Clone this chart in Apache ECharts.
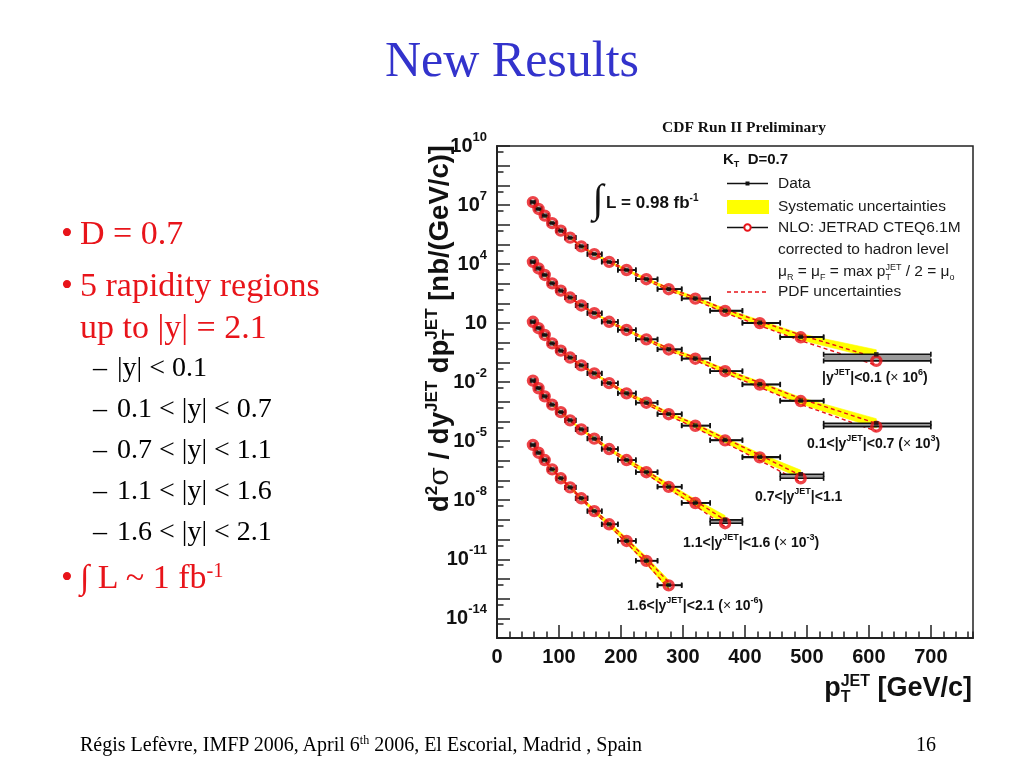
<!DOCTYPE html>
<html lang="en">
<head>
<meta charset="UTF-8">
<title>New Results</title>
<script src="https://cdn.jsdelivr.net/npm/echarts@6.0.0/dist/echarts.min.js"></script>
<style>
  body { margin: 0; background: #fff; }
  #slide { position: relative; width: 1024px; height: 768px; overflow: hidden;
           font-family: "Liberation Serif", "Times New Roman", serif; }
  #main { position: absolute; left: 0; top: 0; width: 1024px; height: 768px; }
  .t { position: absolute; white-space: nowrap; line-height: 1; z-index: 2; }
  .red { color: #e8141a; font-size: 34px; }
  .sub { color: #000; font-size: 28px; }
  sup { font-size: .6em; vertical-align: .55em; line-height: 0; }
</style>
</head>
<body>
<div id="slide">
  <div id="main"></div>
  <div class="t" style="left:0;width:1024px;text-align:center;top:34px;font-size:50px;color:#3333cc;">New Results</div>

  <div class="t red" style="left:61px;top:216px;">•</div>
  <div class="t red" style="left:80px;top:216px;">D = 0.7</div>
  <div class="t red" style="left:61px;top:268px;">•</div>
  <div class="t red" style="left:80px;top:268px;">5 rapidity regions</div>
  <div class="t red" style="left:80px;top:310px;">up to |y| = 2.1</div>

  <div class="t sub" style="left:93px;top:353px;">–</div>
  <div class="t sub" style="left:117px;top:353px;">|y| &lt; 0.1</div>
  <div class="t sub" style="left:93px;top:394px;">–</div>
  <div class="t sub" style="left:117px;top:394px;">0.1 &lt; |y| &lt; 0.7</div>
  <div class="t sub" style="left:93px;top:435px;">–</div>
  <div class="t sub" style="left:117px;top:435px;">0.7 &lt; |y| &lt; 1.1</div>
  <div class="t sub" style="left:93px;top:476px;">–</div>
  <div class="t sub" style="left:117px;top:476px;">1.1 &lt; |y| &lt; 1.6</div>
  <div class="t sub" style="left:93px;top:517px;">–</div>
  <div class="t sub" style="left:117px;top:517px;">1.6 &lt; |y| &lt; 2.1</div>

  <div class="t red" style="left:61px;top:560px;">•</div>
  <div class="t red" style="left:80px;top:560px;">∫ L ~ 1 fb<sup>-1</sup></div>

  <div class="t" style="left:80px;top:734px;font-size:20px;">Régis Lefèvre, IMFP 2006, April 6<sup>th</sup> 2006, El Escorial, Madrid , Spain</div>
  <div class="t" style="left:916px;top:734px;font-size:20px;">16</div>
</div>
<script type="text/javascript">
// pT bins in GeV/c, common to all rapidity regions
var binEdges = [54, 62, 72, 83, 96, 110, 127, 146, 169, 195, 224, 259, 298, 344, 396, 457, 527, 700];
var ptMean = [58, 67, 77, 89, 103, 118, 136, 157, 181, 209, 241, 277, 320, 368, 424, 490, 612];

// axis ticks
var xLabelValues = [0, 100, 200, 300, 400, 500, 600, 700];
var yLabelExps = [10, 7, 4, 1, -2, -5, -8, -11, -14];

// measured cross sections, nb/(GeV/c), already multiplied by the factor in the label
var data_y01 = [1.4e7, 6.3e6, 2.9e6, 1.2e6, 5.0e5, 2.2e5, 7.9e4, 3.2e4, 1.3e4, 5.0e3, 1.7e3, 540, 180, 43, 10.5, 2.0, 0.26];
var data_y07 = [1.3e4, 6.0e3, 2.8e3, 1.05e3, 450, 200, 79, 32, 11.7, 4.5, 1.5, 0.47, 0.16, 0.037, 0.0078, 0.00115, 8.1e-5];
var data_y11 = [11.7, 5.5, 2.5, 0.93, 0.40, 0.178, 0.071, 0.028, 0.0089, 0.0027, 9.1e-4, 2.4e-4, 6.3e-5, 1.15e-5, 1.6e-6, 2.1e-7];
var data_y16 = [1.2e-2, 4.9e-3, 1.9e-3, 7.2e-4, 3.0e-4, 1.15e-4, 4.0e-5, 1.35e-5, 4.0e-6, 1.1e-6, 2.7e-7, 4.9e-8, 7.4e-9, 1.0e-9];
var data_y21 = [6.5e-6, 2.6e-6, 1.1e-6, 3.7e-7, 1.3e-7, 4.5e-8, 1.26e-8, 2.8e-9, 6.0e-10, 8.7e-11, 8.5e-12, 4.9e-13];

// NLO JETRAD CTEQ6.1M (hadron level)
var nlo_y01 = [1.4e7, 6.3e6, 2.9e6, 1.2e6, 5.0e5, 2.2e5, 7.9e4, 3.2e4, 1.3e4, 5.0e3, 1.7e3, 530, 175, 42, 10.0, 1.9, 0.12];
var nlo_y07 = [1.3e4, 6.0e3, 2.8e3, 1.05e3, 450, 200, 79, 32, 11.7, 4.5, 1.5, 0.46, 0.155, 0.036, 0.0075, 0.0011, 5.5e-5];
var nlo_y11 = [11.7, 5.5, 2.5, 0.93, 0.40, 0.178, 0.071, 0.028, 0.0089, 0.0027, 9.0e-4, 2.35e-4, 6.1e-5, 1.1e-5, 1.5e-6, 1.3e-7];
var nlo_y16 = [1.2e-2, 4.9e-3, 1.9e-3, 7.2e-4, 3.0e-4, 1.15e-4, 4.0e-5, 1.35e-5, 4.0e-6, 1.1e-6, 2.65e-7, 4.8e-8, 7.2e-9, 6.8e-10];
var nlo_y21 = [6.5e-6, 2.6e-6, 1.1e-6, 3.7e-7, 1.3e-7, 4.5e-8, 1.26e-8, 2.8e-9, 6.0e-10, 8.5e-11, 8.3e-12, 4.7e-13];

// systematic uncertainties on the data, percent (up / down)
var sysUp_y01 = [8, 8, 8, 8, 8, 9, 10, 11, 12, 14, 16, 19, 23, 28, 35, 44, 70];
var sysDn_y01 = [8, 8, 8, 8, 8, 8, 9, 10, 11, 12, 14, 16, 19, 22, 26, 31, 40];
var sysUp_y07 = [8, 8, 8, 8, 9, 9, 10, 11, 13, 15, 17, 20, 25, 30, 37, 46, 72];
var sysDn_y07 = [8, 8, 8, 8, 8, 9, 9, 10, 11, 13, 14, 17, 20, 23, 27, 32, 42];
var sysUp_y11 = [9, 9, 9, 9, 10, 11, 12, 13, 15, 18, 21, 25, 31, 38, 48, 62];
var sysDn_y11 = [9, 9, 9, 9, 9, 10, 11, 12, 13, 15, 17, 19, 23, 26, 31, 37];
var sysUp_y16 = [10, 10, 10, 11, 12, 13, 15, 17, 20, 25, 31, 40, 52, 68];
var sysDn_y16 = [10, 10, 10, 10, 11, 12, 13, 15, 17, 20, 23, 27, 32, 38];
var sysUp_y21 = [11, 11, 12, 13, 14, 16, 19, 24, 31, 42, 58, 80];
var sysDn_y21 = [11, 11, 11, 12, 13, 14, 16, 19, 23, 28, 34, 42];

// PDF uncertainties on the NLO prediction, percent (up / down)
var pdfUp_y01 = [3, 3, 3, 3, 4, 4, 5, 6, 7, 8, 10, 12, 15, 19, 24, 31, 45];
var pdfDn_y01 = [3, 3, 3, 4, 4, 5, 6, 7, 8, 10, 12, 14, 17, 21, 26, 32, 40];
var pdfUp_y07 = [3, 3, 3, 3, 4, 4, 5, 6, 7, 9, 11, 13, 16, 20, 25, 32, 46];
var pdfDn_y07 = [3, 3, 3, 4, 4, 5, 6, 7, 9, 10, 12, 15, 18, 22, 27, 33, 41];
var pdfUp_y11 = [3, 3, 4, 4, 4, 5, 6, 7, 8, 10, 12, 15, 19, 24, 31, 40];
var pdfDn_y11 = [3, 3, 4, 4, 5, 6, 7, 8, 10, 12, 14, 17, 21, 25, 30, 36];
var pdfUp_y16 = [4, 4, 4, 5, 5, 6, 7, 9, 11, 14, 18, 24, 32, 42];
var pdfDn_y16 = [4, 4, 4, 5, 6, 7, 8, 10, 12, 15, 18, 22, 27, 33];
var pdfUp_y21 = [4, 4, 5, 5, 6, 7, 9, 12, 16, 22, 32, 46];
var pdfDn_y21 = [4, 4, 5, 6, 7, 8, 10, 13, 16, 20, 25, 32];

var regionLabels = [
  '{b||y}{s|JET}{b||<0.1 (}{x|×}{b| 10}{s|6}{b|)}',
  '{b|0.1<|y}{s|JET}{b||<0.7 (}{x|×}{b| 10}{s|3}{b|)}',
  '{b|0.7<|y}{s|JET}{b||<1.1}',
  '{b|1.1<|y}{s|JET}{b||<1.6 (}{x|×}{b| 10}{s|-3}{b|)}',
  '{b|1.6<|y}{s|JET}{b||<2.1 (}{x|×}{b| 10}{s|-6}{b|)}'
];

var regions = [
  [data_y01, nlo_y01, sysUp_y01, sysDn_y01, pdfUp_y01, pdfDn_y01],
  [data_y07, nlo_y07, sysUp_y07, sysDn_y07, pdfUp_y07, pdfDn_y07],
  [data_y11, nlo_y11, sysUp_y11, sysDn_y11, pdfUp_y11, pdfDn_y11],
  [data_y16, nlo_y16, sysUp_y16, sysDn_y16, pdfUp_y16, pdfDn_y16],
  [data_y21, nlo_y21, sysUp_y21, sysDn_y21, pdfUp_y21, pdfDn_y21]
];

var lg = function (v) { return Math.log10(v); };
var RED = '#e8141a';
var SANS = 'Liberation Sans';

// text with sub/superscripts, laid out piece by piece (baseline at y = 0)
var meas = document.createElement('canvas').getContext('2d');
function textRun(parts, fs, opt) {
  var o = Object.assign({family: SANS, weight: 'bold', color: '#111', align: 'left'}, opt || {});
  var sm = Math.round(fs * 0.6);
  var kids = [];
  var x = 0;
  function piece(text, size, base, fam, wt) {
    meas.font = wt + ' ' + size + 'px "' + fam + '"';
    kids.push({type: 'text', x: x, y: base - 0.34 * size,
      style: {text: text, fontSize: size, fontWeight: wt, fontFamily: fam, fill: o.color, verticalAlign: 'middle', align: 'left'}});
    return meas.measureText(text).width;
  }
  parts.forEach(function (p) {
    if (typeof p === 'string') { x += piece(p, fs, 0, o.family, o.weight); return; }
    var fam = p.family || o.family, wt = p.weight || o.weight;
    if (p.t) { x += piece(p.t, p.size || fs, 0, fam, wt); return; }
    var w = 0;
    if (p.sup) w = Math.max(w, piece(p.sup, sm, -0.42 * fs, fam, wt));
    if (p.sub) w = Math.max(w, piece(p.sub, sm, 0.2 * fs, fam, wt));
    x += w;
  });
  var shift = o.align === 'right' ? x : (o.align === 'center' ? x / 2 : 0);
  kids.forEach(function (k) { k.x -= shift; });
  return kids;
}

var series = [];
regions.forEach(function (r) {
  var d = r[0], th = r[1], su = r[2], sd = r[3], pu = r[4], pd = r[5];
  var n = d.length;
  var seg = [], pdfHi = [], pdfLo = [], bars = [], thPts = [], dPts = [];
  for (var i = 0; i < n; i++) {
    if (i < n - 1) {
      seg.push([ptMean[i], lg(d[i] * (1 - sd[i] / 100)), lg(d[i] * (1 + su[i] / 100)),
                ptMean[i + 1], lg(d[i + 1] * (1 - sd[i + 1] / 100)), lg(d[i + 1] * (1 + su[i + 1] / 100))]);
    }
    pdfHi.push([ptMean[i], lg(th[i] * (1 + pu[i] / 100))]);
    pdfLo.push([ptMean[i], lg(th[i] * (1 - pd[i] / 100))]);
    bars.push([binEdges[i], binEdges[i + 1], lg(d[i]), lg(th[i])]);
    thPts.push([ptMean[i], lg(th[i])]);
    dPts.push([ptMean[i], lg(d[i])]);
  }
  series.push({
    type: 'custom', silent: true, z: 1, data: seg,
    encode: {x: [0, 3], y: [1, 2, 4, 5]},
    renderItem: function (params, api) {
      var a = api.coord([api.value(0), api.value(2)]);
      var b = api.coord([api.value(3), api.value(5)]);
      var c = api.coord([api.value(3), api.value(4)]);
      var e = api.coord([api.value(0), api.value(1)]);
      return {type: 'polygon', shape: {points: [a, b, c, e]},
        style: {fill: '#ffff00', stroke: '#ffff00', lineWidth: 0.6}};
    }
  });
  [pdfHi, pdfLo].forEach(function (pts) {
    series.push({type: 'line', z: 2, data: pts, symbol: 'none', silent: true,
      lineStyle: {color: RED, width: 1.4, type: [4, 3]}});
  });
  series.push({
    type: 'custom', silent: true, z: 3, data: bars,
    encode: {x: [0, 1], y: [2, 3]},
    renderItem: function (params, api) {
      var l = api.coord([api.value(0), api.value(2)]);
      var rr = api.coord([api.value(1), api.value(2)]);
      var yt = api.coord([api.value(0), api.value(3)])[1];
      var kids = [];
      var ls = {stroke: '#111', lineWidth: 1.6};
      if (Math.abs(yt - l[1]) > 1.5) {
        kids.push({type: 'rect', shape: {x: l[0], y: Math.min(l[1], yt), width: rr[0] - l[0], height: Math.abs(yt - l[1])},
          style: {fill: '#9a9a9a'}});
      }
      [l[1], yt].forEach(function (y) {
        kids.push({type: 'line', shape: {x1: l[0], y1: y, x2: rr[0], y2: y}, style: ls});
        kids.push({type: 'line', shape: {x1: l[0], y1: y - 2.5, x2: l[0], y2: y + 2.5}, style: ls});
        kids.push({type: 'line', shape: {x1: rr[0], y1: y - 2.5, x2: rr[0], y2: y + 2.5}, style: ls});
      });
      return {type: 'group', children: kids};
    }
  });
  series.push({type: 'scatter', z: 4, data: thPts, symbol: 'circle', symbolSize: 9, silent: true,
    itemStyle: {color: 'rgba(0,0,0,0)', borderColor: RED, borderWidth: 3.4}});
  series.push({type: 'scatter', z: 5, data: dPts, symbol: 'rect', symbolSize: 4.5, silent: true,
    itemStyle: {color: '#111'}});
});

var yMinorTicks = [];
for (var k = -15; k < 10; k++) yMinorTicks.push(k + Math.log10(5));

var labelPos = [[822, 378], [807, 444], [755, 497], [683, 543], [627, 606]];
var labelRich = {
  b: {fontSize: 14, fontWeight: 'bold', fontFamily: SANS, fill: '#111', lineHeight: 19},
  s: {fontSize: 9, fontWeight: 'bold', fontFamily: SANS, fill: '#111', verticalAlign: 'top', lineHeight: 10},
  x: {fontSize: 14, fontFamily: SANS, fill: '#222', lineHeight: 19}
};
var graphic = [];
regionLabels.forEach(function (t, i) {
  graphic.push({type: 'text', x: labelPos[i][0], y: labelPos[i][1],
    style: {text: t, rich: labelRich, verticalAlign: 'middle', align: 'left'}});
});

// axis titles
graphic.push({type: 'group', x: 450, y: 145, rotation: Math.PI / 2,
  children: textRun(['d', {sup: '2'}, {t: 'σ', family: 'DejaVu Serif', weight: 'normal'}, ' / dy', {sup: 'JET'},
    ' dp', {sup: 'JET', sub: 'T'}, ' [nb/(GeV/c)]'], 27.5, {align: 'right'})});
graphic.push({type: 'group', x: 972, y: 698,
  children: textRun(['p', {sup: 'JET', sub: 'T'}, ' [GeV/c]'], 27, {align: 'right'})});

graphic.push({type: 'text', x: 744, y: 128,
  style: {text: 'CDF Run II Preliminary', fontSize: 15.5, fontWeight: 'bold', fontFamily: 'Liberation Serif',
    fill: '#111', align: 'center', verticalAlign: 'middle'}});

// luminosity
graphic.push({type: 'text', x: 598, y: 201,
  style: {text: '∫', fontSize: 40, fontFamily: 'Liberation Serif', fill: '#111', align: 'center', verticalAlign: 'middle'}});
graphic.push({type: 'group', x: 606, y: 209, children: textRun(['L = 0.98 fb', {sup: '-1'}], 17)});

// legend
graphic.push({type: 'group', x: 723, y: 165, children: textRun(['K', {sub: 'T'}, '  D=0.7'], 15)});
graphic.push({type: 'line', shape: {x1: 727, y1: 183.5, x2: 768, y2: 183.5}, style: {stroke: '#111', lineWidth: 1.5}});
graphic.push({type: 'rect', shape: {x: 745.5, y: 181.5, width: 4, height: 4}, style: {fill: '#111'}});
graphic.push({type: 'rect', shape: {x: 727, y: 200, width: 42, height: 14}, style: {fill: '#ffff00'}});
graphic.push({type: 'line', shape: {x1: 727, y1: 227.5, x2: 768, y2: 227.5}, style: {stroke: '#111', lineWidth: 1.5}});
graphic.push({type: 'circle', shape: {cx: 747.5, cy: 227.5, r: 3.2}, style: {fill: '#fff', stroke: RED, lineWidth: 2}});
graphic.push({type: 'line', shape: {x1: 727, y1: 292, x2: 768, y2: 292}, style: {stroke: RED, lineWidth: 1.4, lineDash: [4, 3]}});
var legendRows = [['Data', 183.5], ['Systematic uncertainties', 206.5], ['NLO: JETRAD CTEQ6.1M', 227.5],
  ['corrected to hadron level', 250], ['PDF uncertainties', 292]];
legendRows.forEach(function (r) {
  graphic.push({type: 'text', x: 778, y: r[1],
    style: {text: r[0], fontSize: 15.5, fontFamily: SANS, fill: '#1a1a1a', align: 'left', verticalAlign: 'middle'}});
});
graphic.push({type: 'group', x: 778, y: 277,
  children: textRun(['μ', {sub: 'R'}, ' = μ', {sub: 'F'}, ' = max p', {sup: 'JET', sub: 'T'}, ' / 2 = μ', {sub: 'o'}],
    15.5, {weight: 'normal', color: '#1a1a1a'})});

var chart = echarts.init(document.getElementById('main'));
chart.setOption({
  animation: false,
  grid: {left: 497, top: 146, width: 476, height: 492, show: true, borderColor: '#222', borderWidth: 1.5},
  xAxis: [{
    type: 'value', min: 0, max: 768, interval: 20, position: 'bottom',
    axisLine: {onZero: false, lineStyle: {color: '#222', width: 2}},
    axisTick: {inside: true, length: 6.5, lineStyle: {color: '#222', width: 1.5}},
    axisLabel: {show: false}, splitLine: {show: false}
  }, {
    type: 'value', min: 0, max: 768, interval: 100, position: 'bottom',
    axisLine: {show: false, onZero: false},
    axisTick: {inside: true, length: 13, customValues: xLabelValues, lineStyle: {color: '#222', width: 1.5}},
    axisLabel: {customValues: xLabelValues, fontSize: 20, fontWeight: 'bold', fontFamily: SANS, color: '#111', margin: 9},
    splitLine: {show: false}
  }],
  yAxis: [{
    type: 'value', min: -15, max: 10, interval: 1, position: 'left',
    axisLine: {onZero: false, lineStyle: {color: '#222', width: 2}},
    axisTick: {inside: true, length: 13, lineStyle: {color: '#222', width: 1.5}},
    axisLabel: {
      customValues: yLabelExps, margin: 10,
      formatter: function (v) { return v === 1 ? '{b|10}' : '{b|10}{s|' + v + '}'; },
      rich: {
        b: {fontSize: 20, fontWeight: 'bold', fontFamily: SANS, color: '#111', lineHeight: 30},
        s: {fontSize: 13, fontWeight: 'bold', fontFamily: SANS, color: '#111', verticalAlign: 'top', lineHeight: 14}
      }
    },
    splitLine: {show: false}
  }, {
    type: 'value', min: -15, max: 10, interval: 1, position: 'left',
    axisLine: {show: false, onZero: false},
    axisTick: {inside: true, length: 6.5, customValues: yMinorTicks, lineStyle: {color: '#222', width: 1.5}},
    axisLabel: {show: false}, splitLine: {show: false}
  }],
  series: series,
  graphic: graphic
});
</script>
</body>
</html>
